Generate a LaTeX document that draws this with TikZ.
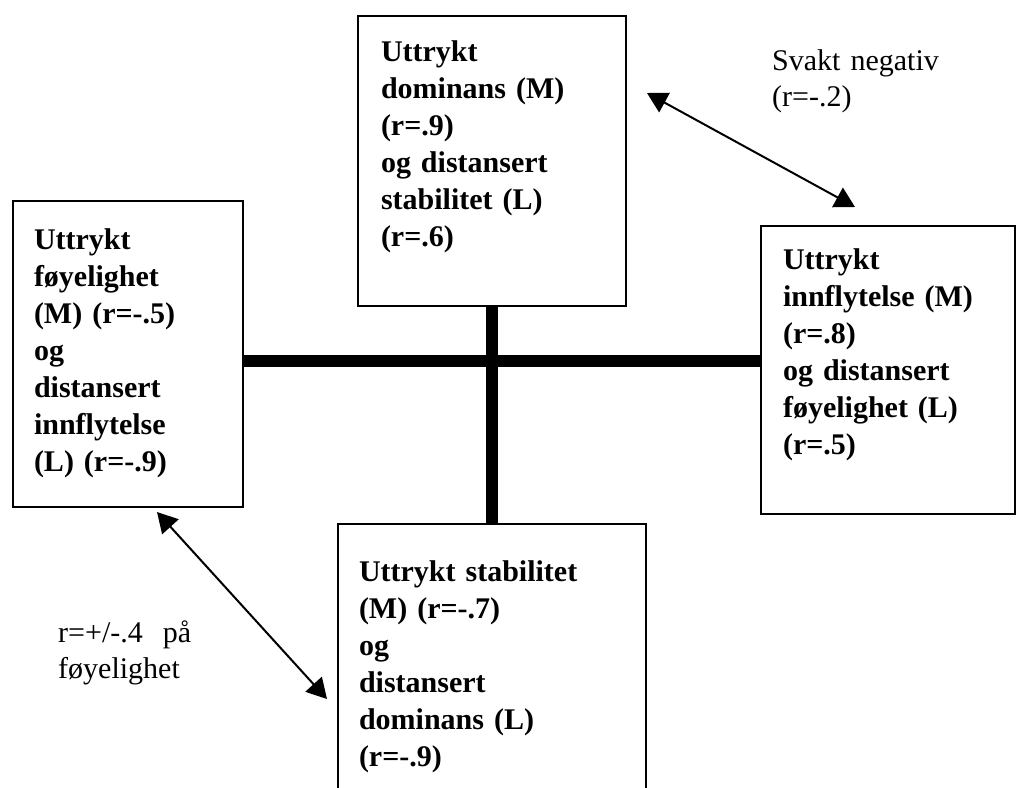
\documentclass[tikz,border=0pt]{standalone}
\usepackage{fontspec}
\setmainfont{Liberation Serif}
\usetikzlibrary{arrows.meta}

\begin{document}
\begin{tikzpicture}[x=1pt,y=-1pt,
  boks/.style={draw,line width=2pt,anchor=north west,align=left,inner ysep=0pt,
    font=\fontsize{30}{37}\selectfont\bfseries},
  bjelke/.style={line width=12pt},
  pil/.style={{Triangle[length=20pt,width=22pt]}-{Triangle[length=20pt,width=22pt]},line width=2pt},
  merk/.style={anchor=base west,align=left,text width=240pt,inner sep=0pt,
    font=\fontsize{30}{36}\selectfont}]

  \clip (0,0) rectangle (1016,787);

  % the four boxes
  \node [boks,inner xsep=23pt,text width=222pt,text height=45pt,text depth=245pt] (topp) at (357,15)
    {Uttrykt\\ dominans (M)\\ (r=.9)\\ og distansert\\ stabilitet (L)\\ (r=.6)};
  \node [boks,inner xsep=21pt,text width=188pt,text height=48pt,text depth=258pt] (venstre) at (12,200)
    {Uttrykt\\ føyelighet\\ (M) (r=-.5)\\ og\\ distansert\\ innflytelse\\ (L) (r=-.9)};
  \node [boks,inner xsep=22pt,text width=210pt,text height=43pt,text depth=245pt] (hoyre) at (760,225)
    {Uttrykt\\ innflytelse (M)\\ (r=.8)\\ og distansert\\ føyelighet (L)\\ (r=.5)};
  \node [boks,inner xsep=21pt,text width=266pt,text height=57pt,text depth=243pt] (bunn) at (337,523)
    {Uttrykt stabilitet\\ (M) (r=-.7)\\ og\\ distansert\\ dominans (L)\\ (r=-.9)};

  % the cross
  \coordinate (kryss) at (491,361);
  \draw [bjelke] (venstre.east |- kryss) -- (hoyre.west |- kryss);
  \draw [bjelke] (topp.south) -- (bunn.north);

  % correlations between opposite boxes
  \coordinate (p1a) at (647,93);
  \coordinate (p1b) at (855,207);
  \coordinate (p2a) at (157,512);
  \coordinate (p2b) at (327,699);
  \draw [pil] (p1a) -- (p1b);
  \draw [pil] (p2a) -- (p2b);

  \node [merk] (svakt) at (772,70) {Svakt negativ\\ (r=-.2)};
  \node [merk] (pluss) at (58,642) {r=+/-.4\ \ på\\ føyelighet};

\end{tikzpicture}
\end{document}
